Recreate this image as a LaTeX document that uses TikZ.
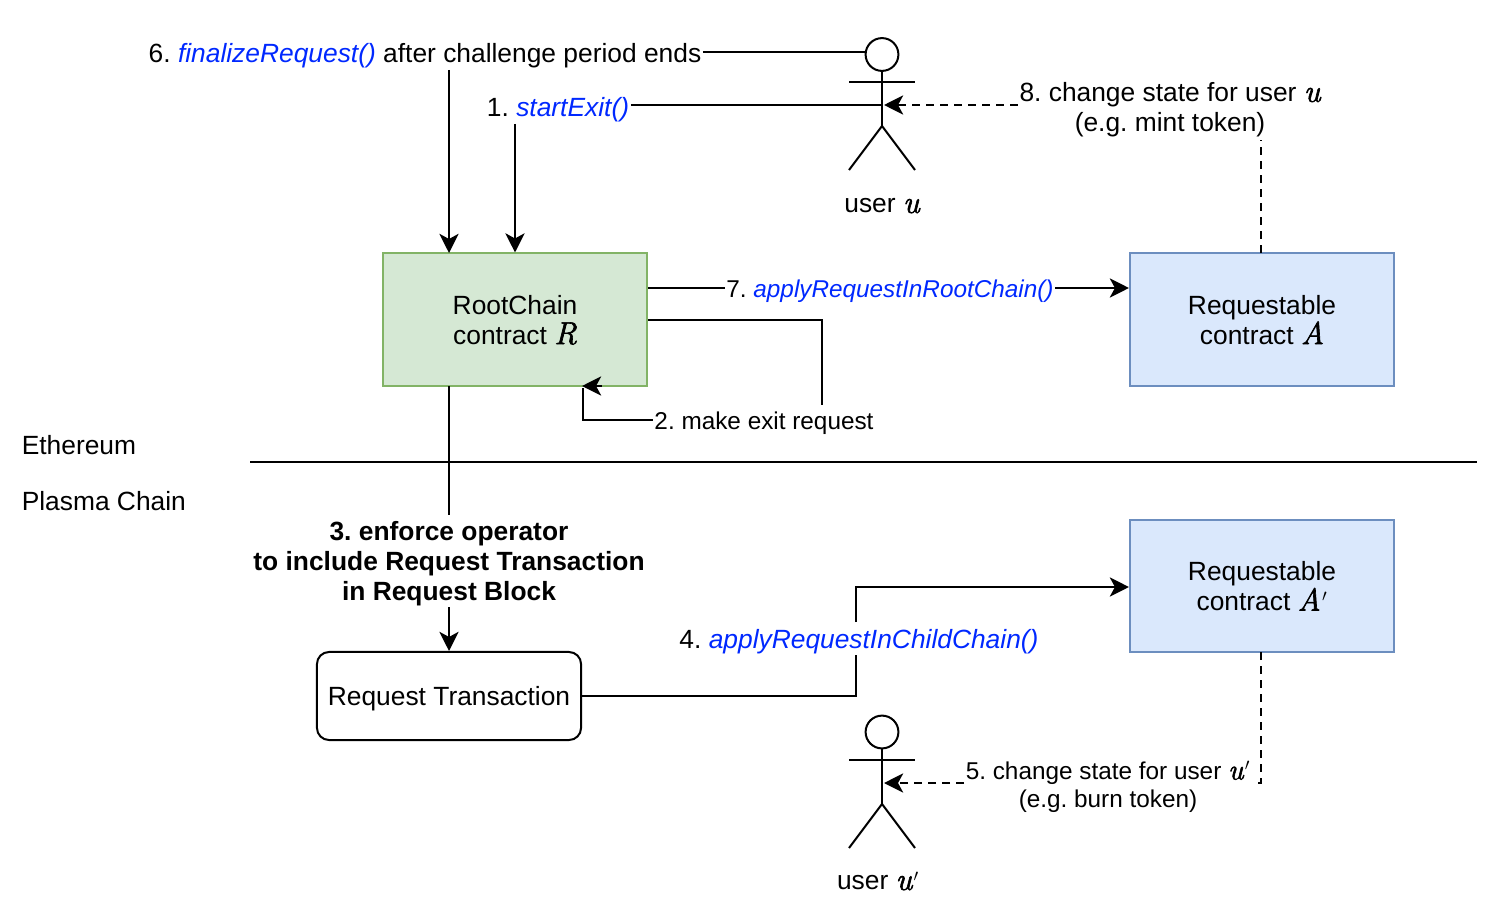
\documentclass[tikz,border=0pt]{standalone}
\usepackage{fontspec}
\setmainfont{Liberation Sans}
\newfontfamily\varfont[FakeBold=2,Scale=1.2]{Latin Modern Roman}
\usepackage{xcolor}
\usetikzlibrary{arrows.meta}
\usetikzlibrary{calc}
\frenchspacing
\definecolor{callblue}{RGB}{0,40,255}
\definecolor{rootfill}{HTML}{D5E8D4}
\definecolor{rootline}{HTML}{82B366}
\definecolor{reqfill}{HTML}{DAE8FC}
\definecolor{reqline}{HTML}{6C8EBF}
\newcommand{\callname}[1]{{\color{callblue}\itshape #1}}
\newcommand{\varname}[1]{{\varfont\itshape #1}}
\newcommand{\primed}[1]{\varname{#1}\kern1pt$'$}
\newcommand{\bigtext}{\fontsize{18.75}{21.3}\selectfont}
\newcommand{\smalltext}{\fontsize{17.3}{20}\selectfont}
\tikzset{
	line/.style={black, line width=0.05cm},
	flow/.style={line, -{Stealth[length=0.48cm,width=0.48cm,inset=0.13cm]}},
	dashflow/.style={flow, dash pattern=on 0.2cm off 0.15cm},
	dashline/.style={line, dash pattern=on 0.2cm off 0.15cm},
	box/.style={rectangle, line width=0.05cm, minimum width=6.6cm, minimum height=3.3cm, align=center, text depth=-2pt, font=\bigtext},
	rootbox/.style={box, draw=rootline, fill=rootfill},
	reqbox/.style={box, draw=reqline, fill=reqfill},
	lbl/.style={inner sep=1pt, align=center, font=\bigtext},
	lblsmall/.style={inner sep=1pt, align=center, font=\smalltext},
}
\begin{document}
\begin{tikzpicture}[x=0.025cm, y=-0.025cm]
\useasboundingbox (0,0) rectangle (1510,912);

\node at (515,319.5) [rootbox] (root) {RootChain\\ contract \varname{R}};
\node at (1262,319.5) [reqbox] (reqa) {Requestable\\ contract \varname{A}};
\node at (1262,586) [reqbox] (reqb) {Requestable\\ contract \primed{A}};
\node at (449,696) [rectangle, draw=black, line width=0.05cm, rounded corners=0.3cm, minimum width=6.6cm, minimum height=2.2cm, text depth=0pt, font=\bigtext] (reqtx) {Request Transaction};

% actors
\node at (882,54.5) [circle, draw=black, line width=0.05cm, minimum size=0.82cm, inner sep=0pt] (headu) {};
\coordinate (hipu) at (882,126);
\draw[line] (headu.south) -- (hipu);
\draw[line] (849,82) -- (915,82);
\draw[line] (849,170) -- (hipu) -- (915,170);
\node at (882,206) [lbl] (nameu) {user \varname{u}};

\node at (882,732) [circle, draw=black, line width=0.05cm, minimum size=0.82cm, inner sep=0pt] (headv) {};
\coordinate (hipv) at (882,804);
\draw[line] (headv.south) -- (hipv);
\draw[line] (849,760) -- (915,760);
\draw[line] (849,848) -- (hipv) -- (915,848);
\node at (878,881) [lbl] (namev) {user \primed{u}};

% chain split
\node at (21.5,445) [lbl, anchor=west, inner sep=0pt] (eth) {Ethereum};
\node at (21.5,501) [lbl, anchor=west, inner sep=0pt] (plasma) {Plasma Chain};
\coordinate (splitl) at (250,462);
\coordinate (splitr) at (1477,462);
\draw[line] (splitl) -- (splitr);

% labels
\node at (425,56) [lbl] (finalize) {6. \callname{finalizeRequest()} after challenge period ends};
\node at (558,110) [lbl] (start) {1. \callname{startExit()}};
\node at (1170,110) [lbl] (change) {8. change state for user \varname{u}\\ (e.g. mint token)};
\node at (890,291) [lblsmall] (applyroot) {7. \callname{applyRequestInRootChain()}};
\node at (764,423) [lblsmall] (make) {2. make exit request};
\node at (449,564) [lbl, font=\bigtext\bfseries] (enforce) {3. enforce operator\\ to include Request Transaction\\ in Request Block};
\node at (859,642) [lbl] (applychild) {4. \callname{applyRequestInChildChain()}};
\node at (1108,787) [lblsmall] (changeb) {5. change state for user \primed{u}\\ (e.g. burn token)};

% 6, 1 and 8
\draw[line] (finalize.east |- 0,52) -- (866,52);
\draw[flow] (449,70) -- (449,253);
\draw[line] (start.east |- 0,105) -- (hipu |- 0,105);
\draw[flow] (start.south -| root.north) -- (root.north);
\draw[dashflow] (change.west |- 0,105) -- (884,105);
\draw[dashline] (1261,253) -- (1261,140);

% 7 and 2
\draw[line] (root.east |- 0,288) -- (applyroot.west |- 0,288);
\draw[flow] (applyroot.east |- 0,288) -- (reqa.west |- 0,288);
\draw[line] (root.east) -- ++(174,0) -- ++(0,85.5);
\draw[line] (make.west |- 0,420) -- (583,420) -- (583,388);
\draw[flow] (602,386) -- (582,386);

% 3 and 4
\draw[line] (449,386) -- (449,515);
\draw[flow] (449,607) -- (reqtx.north);
\draw[line] (reqtx.east) -- (856,696) -- (856,655);
\draw[flow] (856,622) -- (856,587) -- (reqb.west |- 0,587);

% 5
\draw[dashline] (1261,652) -- (1261,783) -- (1255,783);
\draw[dashflow] (changeb.west |- 0,783) -- (884,783);

\end{tikzpicture}
\end{document}
